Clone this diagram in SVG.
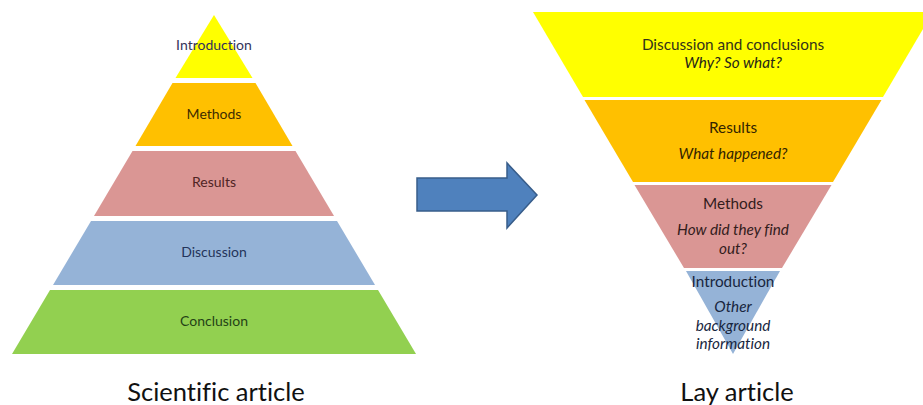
<svg xmlns="http://www.w3.org/2000/svg" width="923" height="405" viewBox="0 0 923 405">
<style>
text{font-variant-ligatures:none}
.lbl{font-family:Lato,"Liberation Sans",sans-serif;font-size:14px;text-anchor:middle}
.rl{font-family:Lato,"Liberation Sans",sans-serif;font-size:15.3px;text-anchor:middle}
.it{font-style:italic}
.cap{font-family:Lato,"Liberation Sans",sans-serif;font-size:25.5px;text-anchor:middle;fill:#111}
</style>
<rect width="923" height="405" fill="#ffffff"/>
<g id="sci-introduction"><polygon points="214,15 252.5,78 175.5,78" fill="#ffff00"/><text class="lbl" x="214" y="50" fill="#33335a">Introduction</text></g>
<g id="sci-methods"><polygon points="172.5,83 255.5,83 292.5,146 135.5,146" fill="#ffc000"/><text class="lbl" x="214" y="119" fill="#402c00">Methods</text></g>
<g id="sci-results"><polygon points="132.5,151 295.5,151 334,216 94,216" fill="#da9694"/><text class="lbl" x="214" y="187" fill="#502424">Results</text></g>
<g id="sci-discussion"><polygon points="91,221 337,221 375,285 53,285" fill="#95b3d7"/><text class="lbl" x="214" y="257" fill="#24345a">Discussion</text></g>
<g id="sci-conclusion"><polygon points="50,290 378,290 416,354 12,354" fill="#92d050"/><text class="lbl" x="214" y="326" fill="#244216">Conclusion</text></g>
<text class="cap" x="216" y="401">Scientific article</text>
<g id="connectors"><polygon points="417,178 507,178 507,163 537,195 507,228 507,211 417,211" fill="#4f81bd" stroke="#385d8a" stroke-width="1.5"/></g>
<g id="lay-discussion"><polygon points="533,12 933,12 883,97 583,97" fill="#ffff00"/><text class="rl" x="733" y="50" fill="#333318">Discussion and conclusions</text><text class="rl it" x="733" y="68" fill="#262618">Why? So what?</text></g>
<g id="lay-results"><polygon points="584.5,100 881.5,100 833,182 633,182" fill="#ffc000"/><text class="rl" x="733" y="133" fill="#332400">Results</text><text class="rl it" x="733" y="159" fill="#332400">What happened?</text></g>
<g id="lay-methods"><polygon points="634.5,185 831.5,185 782,268 684,268" fill="#da9694"/><text class="rl" x="733" y="209" fill="#331c1c">Methods</text><text class="rl it" x="733" y="235" fill="#331c1c">How did they find</text><text class="rl it" x="733" y="254" fill="#331c1c">out?</text></g>
<g id="lay-introduction"><polygon points="686,271 780,271 733,354" fill="#95b3d7"/><text class="rl" x="733" y="287" fill="#182640">Introduction</text><text class="rl it" x="733" y="312" fill="#182640">Other</text><text class="rl it" x="733" y="331" fill="#182640">background</text><text class="rl it" x="733" y="349" fill="#182640">information</text></g>
<text class="cap" x="737" y="401">Lay article</text>
</svg>
